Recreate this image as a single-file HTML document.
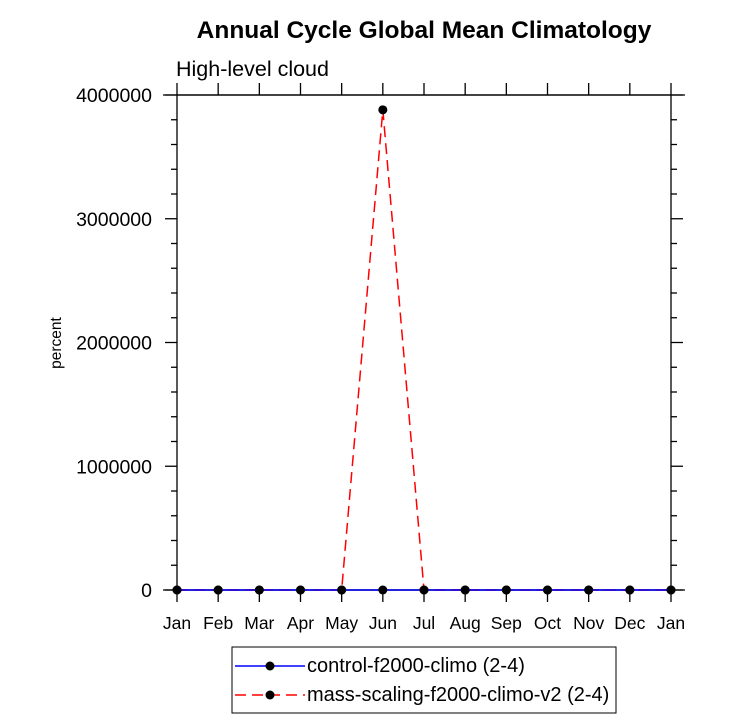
<!DOCTYPE html>
<html><head><meta charset="utf-8"><style>
body{margin:0;background:#fff;}
svg{display:block;font-family:"Liberation Sans",Helvetica,sans-serif;}
</style></head><body>
<svg id="chart" width="732" height="719" viewBox="0 0 732 719">
<text x="424" y="38" text-anchor="middle" font-size="24.5" font-weight="bold">Annual Cycle Global Mean Climatology</text>
<text x="176" y="76" font-size="21.5">High-level cloud</text>
<text transform="translate(61,343) rotate(-90)" text-anchor="middle" font-size="15.5">percent</text>
<g id="axes"></g>
<g id="series"></g>
<g>
<rect x="232" y="647" width="384" height="66" fill="#fff" stroke="#000" stroke-width="1"/>
<line x1="235" y1="666" x2="305" y2="666" stroke="#0000ff" stroke-width="1.5"/>
<circle cx="270" cy="666" r="4.5" fill="#000"/>
<text x="307" y="672" font-size="20">control-f2000-climo (2-4)</text>
<line x1="235" y1="695" x2="305" y2="695" stroke="#ff0000" stroke-width="1.5" stroke-dasharray="11,6"/>
<circle cx="270" cy="695" r="4.5" fill="#000"/>
<text x="307" y="701" font-size="20">mass-scaling-f2000-climo-v2 (2-4)</text>
</g>
</svg>
<script>
const months = ["Jan","Feb","Mar","Apr","May","Jun","Jul","Aug","Sep","Oct","Nov","Dec","Jan"];
const controlValues = [0,0,0,0,0,0,0,0,0,0,0,0,0];
const massScalingValues = [0,0,0,0,0,3880000,0,0,0,0,0,0,0];
const yTicks = [0,1000000,2000000,3000000,4000000];
const yTickLabels = ["0","1000000","2000000","3000000","4000000"];

const L=177,R=671,T=95,B=590,yMax=4000000;
const x=i=>L+(R-L)*i/(months.length-1);
const y=v=>B-(B-T)*v/yMax;
const NS="http://www.w3.org/2000/svg";
function mk(tag,attrs,parent){const e=document.createElementNS(NS,tag);for(const k in attrs)e.setAttribute(k,attrs[k]);parent.appendChild(e);return e;}
const ax=document.getElementById('axes'), se=document.getElementById('series');
const fr=mk('rect',{x:L,y:T,width:R-L,height:B-T,fill:'none',stroke:'#000','stroke-width':1.3},ax);


mk('line',{x1:163,y1:T,x2:685,y2:T,stroke:'#000','stroke-width':1.3},ax);
mk('line',{x1:163,y1:B,x2:685,y2:B,stroke:'#000','stroke-width':1.3},ax);
months.forEach((m,i)=>{
  const xx=x(i);
  mk('line',{x1:xx,y1:B,x2:xx,y2:B+12,stroke:'#000','stroke-width':1.3},ax);
  mk('line',{x1:xx,y1:T,x2:xx,y2:T-12,stroke:'#000','stroke-width':1.3},ax);
  const t=mk('text',{x:xx,y:629,'text-anchor':'middle','font-size':17.5},ax);
  t.textContent=m;
  
  
});
for(let v=0;v<=yMax;v+=200000){
  const yy=y(v), major=v%1000000===0, len=major?12:6;
  mk('line',{x1:L,y1:yy,x2:L-len,y2:yy,stroke:'#000','stroke-width':1.3},ax);
  mk('line',{x1:R,y1:yy,x2:R+len,y2:yy,stroke:'#000','stroke-width':1.3},ax);
}
yTicks.forEach((v,i)=>{
  const t=mk('text',{x:152,y:y(v)+7,'text-anchor':'end','font-size':19.5},ax);
  t.textContent=yTickLabels[i];
  
  
});
function series(vals,color,dash,name){
  const pts=vals.map((v,i)=>x(i)+','+y(v)).join(' ');
  const pl=mk('polyline',{points:pts,fill:'none',stroke:color,'stroke-width':1.5},se);
  if(dash)pl.setAttribute('stroke-dasharray',dash);
  
  
  vals.forEach((v,i)=>{
    const c=mk('circle',{cx:x(i),cy:y(v),r:4.5,fill:'#000'},se);
    
    
  });
}
series(massScalingValues,'#ff0000','11,6','mass-scaling');
series(controlValues,'#0000ff',null,'control');
</script>
</body></html>
